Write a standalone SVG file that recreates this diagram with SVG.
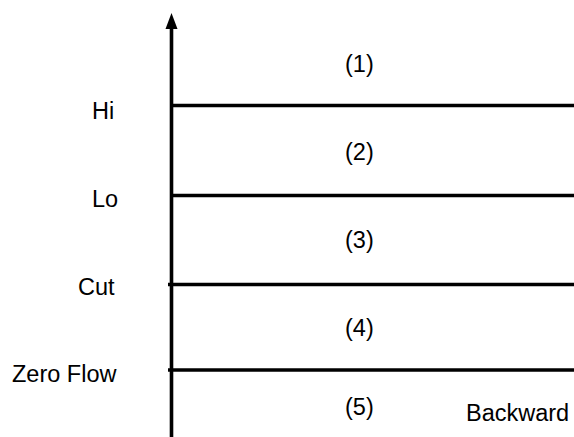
<svg xmlns="http://www.w3.org/2000/svg" width="574" height="437" viewBox="0 0 574 437">
<style>
text{font-family:"Liberation Sans",Arial,sans-serif;font-size:23.5px;fill:#000}
.ln{stroke:#000;stroke-width:3.6;fill:none}
</style>
<rect width="574" height="437" fill="#fff"/>
<g id="connectors">
<line class="ln" x1="171.5" y1="437" x2="171.5" y2="26"/>
<polygon points="171.5,13 165.5,29 177.5,29" fill="#000"/>
<line class="ln" x1="170" y1="105.5" x2="574" y2="105.5"/>
<line class="ln" x1="170" y1="195.5" x2="574" y2="195.5"/>
<line class="ln" x1="168" y1="284.5" x2="574" y2="284.5"/>
<line class="ln" x1="168" y1="370" x2="574" y2="370"/>
</g>
<g id="labels">
<text x="92" y="119">Hi</text>
<text x="92" y="207">Lo</text>
<text x="78" y="295">Cut</text>
<text x="12" y="382">Zero Flow</text>
<text x="345" y="72">(1)</text>
<text x="345" y="160">(2)</text>
<text x="345" y="248">(3)</text>
<text x="345" y="336">(4)</text>
<text x="345" y="415">(5)</text>
<text x="466" y="421">Backward</text>
</g>
</svg>
